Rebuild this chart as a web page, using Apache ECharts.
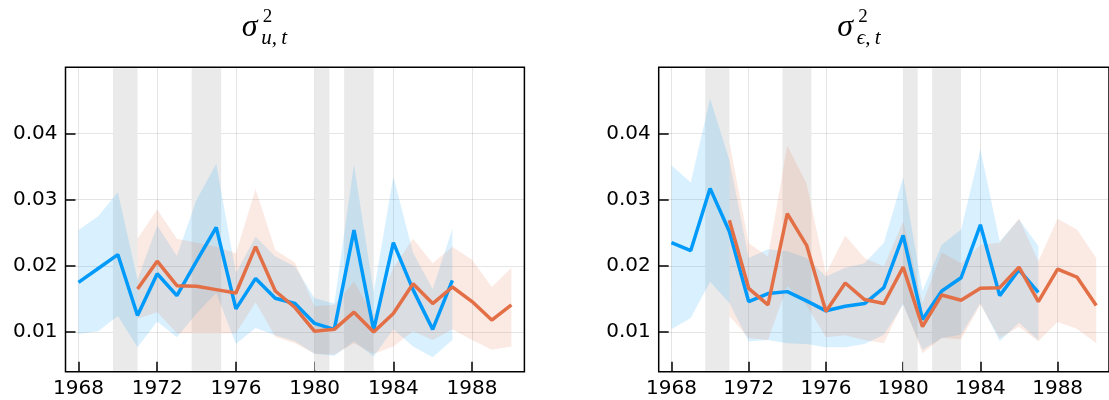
<!DOCTYPE html>
<html><head><meta charset="utf-8">
<script src="https://cdn.jsdelivr.net/npm/echarts@6/dist/echarts.min.js"></script>
<style>html,body{margin:0;padding:0;background:#fff}#c{width:1109px;height:400px}</style>
</head><body><div id="c"></div>
<script>
// ---- data ----
const blueYears   = [1968,1969,1970,1971,1972,1973,1974,1975,1976,1977,1978,1979,1980,1981,1982,1983,1984,1985,1986,1987];
const orangeYears = [1971,1972,1973,1974,1975,1976,1977,1978,1979,1980,1981,1982,1983,1984,1985,1986,1987,1988,1989,1990];
const xTicks = [1968,1972,1976,1980,1984,1988];
const yTicks = [0.01,0.02,0.03,0.04];
const recessions = [[1969.75,1971.0],[1973.75,1975.25],[1980.0,1980.75],[1981.5,1983.0]];

// sigma^2_{u,t}
const uBlue     = [0.0175,0.0196,0.0217,0.0125,0.0188,0.0155,0.0207,0.0258,0.0135,0.0181,0.0151,0.0143,0.0113,0.0104,0.0254,0.0103,0.0235,0.0164,0.0104,0.0178];
const uBlueHi   = [0.0254,0.0275,0.0311,0.0179,0.0261,0.0215,0.0300,0.0354,0.0189,0.0244,0.0214,0.0199,0.0151,0.0143,0.0353,0.0160,0.0335,0.0220,0.0165,0.0256];
const uBlueLo   = [0.0097,0.0101,0.0124,0.0077,0.0116,0.0092,0.0128,0.0159,0.0082,0.0106,0.0095,0.0086,0.0067,0.0064,0.0086,0.0063,0.0104,0.0078,0.0062,0.0088];
const uOrange   = [0.0165,0.0207,0.0170,0.0169,0.0164,0.0159,0.0229,0.0162,0.0137,0.0101,0.0104,0.0130,0.0100,0.0128,0.0173,0.0143,0.0168,0.0146,0.0118,0.0141];
const uOrangeHi = [0.0241,0.0285,0.0241,0.0235,0.0229,0.0219,0.0316,0.0224,0.0205,0.0139,0.0141,0.0176,0.0125,0.0197,0.0241,0.0204,0.0229,0.0209,0.0168,0.0197];
const uOrangeLo = [0.0120,0.0130,0.0098,0.0098,0.0098,0.0098,0.0145,0.0093,0.0083,0.0067,0.0066,0.0083,0.0067,0.0078,0.0101,0.0088,0.0104,0.0088,0.0073,0.0078];

// sigma^2_{eps,t}
const eBlue     = [0.0235,0.0223,0.0317,0.0252,0.0146,0.0158,0.0161,0.0147,0.0132,0.0139,0.0143,0.0167,0.0246,0.0119,0.0162,0.0182,0.0262,0.0155,0.0194,0.0160];
const eBlueHi   = [0.0352,0.0326,0.0453,0.0360,0.0212,0.0225,0.0222,0.0212,0.0184,0.0197,0.0204,0.0235,0.0334,0.0162,0.0232,0.0255,0.0376,0.0237,0.0270,0.0230];
const eBlueLo   = [0.0104,0.0121,0.0176,0.0144,0.0086,0.0088,0.0083,0.0082,0.0077,0.0077,0.0082,0.0096,0.0141,0.0073,0.0091,0.0096,0.0144,0.0086,0.0114,0.0088];
const eOrange   = [0.0269,0.0166,0.0141,0.0279,0.0231,0.0131,0.0174,0.0149,0.0143,0.0198,0.0108,0.0156,0.0148,0.0166,0.0167,0.0198,0.0146,0.0195,0.0183,0.0140];
const eOrangeHi = [0.0387,0.0234,0.0214,0.0382,0.0324,0.0188,0.0246,0.0212,0.0199,0.0267,0.0144,0.0220,0.0204,0.0232,0.0235,0.0272,0.0207,0.0271,0.0255,0.0212];
const eOrangeLo = [0.0124,0.0091,0.0088,0.0170,0.0140,0.0092,0.0095,0.0088,0.0083,0.0144,0.0068,0.0091,0.0089,0.0141,0.0091,0.0108,0.0086,0.0115,0.0105,0.0083];

// ---- styling ----
const BLUE = 'rgb(0,154,250)', ORANGE = 'rgb(227,111,70)';
const BLUE_F = 'rgba(0,154,250,0.15)', ORANGE_F = 'rgba(227,111,70,0.15)';
const FONT = '"DejaVu Sans", sans-serif';

function xAxis(i){
  return {type:'value', gridIndex:i, min:1967.34, max:1990.66,
    axisLine:{show:false},
    axisTick:{show:true, inside:true, length:10, customValues:xTicks, lineStyle:{color:'#000', width:1.5}},
    axisLabel:{customValues:xTicks, fontSize:20, fontFamily:FONT, color:'#000', margin:7, formatter:v=>String(v)},
    splitLine:{show:true, lineStyle:{color:'rgba(0,0,0,0.1)', width:1}}};
}
function yAxis(i){
  return {type:'value', gridIndex:i, min:0.004, max:0.05,
    axisLine:{show:false},
    axisTick:{show:true, inside:true, length:10, customValues:yTicks, lineStyle:{color:'#000', width:1.5}},
    axisLabel:{customValues:yTicks, fontSize:20, fontFamily:FONT, color:'#000', margin:8, formatter:v=>v.toFixed(2)},
    splitLine:{show:true, lineStyle:{color:'rgba(0,0,0,0.1)', width:1}}};
}
function recessionSeries(i){
  return {type:'custom', xAxisIndex:i, yAxisIndex:i, silent:true, z:1,
    data: recessions, encode:{x:[0,1]},
    renderItem:(params, api)=>{
      const a = api.coord([api.value(0), 0.01]), b = api.coord([api.value(1), 0.01]);
      const cs = params.coordSys;
      return {type:'rect', shape:{x:a[0], y:cs.y+1, width:b[0]-a[0], height:cs.height-2},
              style:{fill:'rgb(234,234,234)'}};
    }};
}
function bandSeries(i, yrs, lo, hi, color){
  const pts = yrs.map((y,k)=>[y, lo[k], hi[k]]);
  return {type:'custom', xAxisIndex:i, yAxisIndex:i, silent:true, z:2,
    data: pts, encode:{x:0, y:[1,2]},
    renderItem:(params, api)=>{
      if (params.dataIndex !== 0) return null;
      const up = pts.map(p=>api.coord([p[0], p[2]]));
      const dn = pts.map(p=>api.coord([p[0], p[1]])).reverse();
      return {type:'polygon', shape:{points: up.concat(dn)}, style:{fill:color}};
    }};
}
function lineSeries(i, yrs, vals, color){
  return {type:'line', xAxisIndex:i, yAxisIndex:i, z:2, silent:true,
    data: yrs.map((y,k)=>[y, vals[k]]), showSymbol:false, symbol:'none',
    lineStyle:{color, width:3.5}, itemStyle:{color}};
}
function titleTexts(x0, sub){
  const serif = '"Liberation Serif","DejaVu Serif",serif';
  return [
    {type:'text', x:x0, y:28, style:{text:'σ', font:'italic 32px '+serif, fill:'#000', verticalAlign:'middle'}},
    {type:'text', x:x0+21, y:17, style:{text:'2', font:'19px '+serif, fill:'#000', verticalAlign:'middle'}},
    {type:'text', x:x0+19.5, y:38, style:{text:sub, font:'italic 21px '+serif, fill:'#000', verticalAlign:'middle'}}
  ];
}

const chart = echarts.init(document.getElementById('c'), null, {renderer:'canvas'});
chart.setOption({
  animation:false,
  backgroundColor:'#fff',
  grid:[
    {left:65.5, right:584.6, top:67.3, bottom:28.3, show:true, borderColor:'#000', borderWidth:1.5, backgroundColor:'transparent'},
    {left:658.7, right:-8.6, top:67.3, bottom:28.3, show:true, borderColor:'#000', borderWidth:1.5, backgroundColor:'transparent'}
  ],
  xAxis:[xAxis(0), xAxis(1)],
  yAxis:[yAxis(0), yAxis(1)],
  graphic: titleTexts(241.7, 'u,\u2009t').concat(titleTexts(837.3, 'ϵ,\u2009t')),
  series:[
    recessionSeries(0),
    bandSeries(0, blueYears, uBlueLo, uBlueHi, BLUE_F),
    lineSeries(0, blueYears, uBlue, BLUE),
    bandSeries(0, orangeYears, uOrangeLo, uOrangeHi, ORANGE_F),
    lineSeries(0, orangeYears, uOrange, ORANGE),
    recessionSeries(1),
    bandSeries(1, blueYears, eBlueLo, eBlueHi, BLUE_F),
    lineSeries(1, blueYears, eBlue, BLUE),
    bandSeries(1, orangeYears, eOrangeLo, eOrangeHi, ORANGE_F),
    lineSeries(1, orangeYears, eOrange, ORANGE)
  ]
});
</script></body></html>
